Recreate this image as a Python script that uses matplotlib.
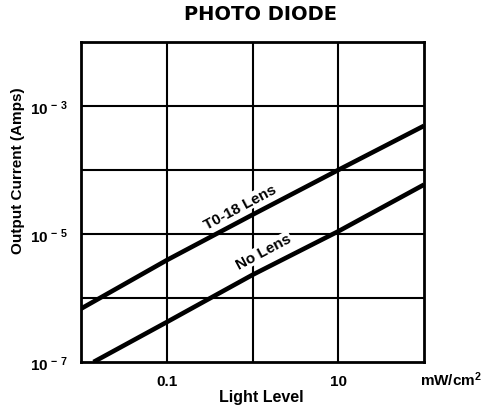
import matplotlib
matplotlib.use("Agg")
import matplotlib.pyplot as plt

# Data
light_to18 = [0.01, 0.1, 1, 10, 100]
current_to18 = [6.8e-7, 3.9e-6, 2.0e-5, 1.0e-4, 4.9e-4]
light_nolens = [0.014, 0.1, 1, 10, 100]
current_nolens = [1.0e-7, 4.2e-7, 2.3e-6, 1.1e-5, 5.9e-5]

xticks = [0.1, 10]
xticklabels = ["0.1", "10"]
yticks = [1e-3, 1e-5, 1e-7]
yticklabels = [r"$\mathbf{10^{\,-\,3}}$", r"$\mathbf{10^{\,-\,5}}$", r"$\mathbf{10^{\,-\,7}}$"]
xgrid = [0.1, 1, 10]
ygrid = [1e-6, 1e-5, 1e-4, 1e-3]

plt.rcParams["font.family"] = ["Liberation Sans", "DejaVu Sans"]
plt.rcParams["mathtext.fontset"] = "custom"
plt.rcParams["mathtext.rm"] = "Liberation Sans"
plt.rcParams["mathtext.bf"] = "Liberation Sans:bold"

fig = plt.figure(figsize=(4.84, 4.10), dpi=100)
ax = fig.add_axes([81/484, 1-363/410, 343/484, 320/410])
ax.set_xscale("log")
ax.set_yscale("log")
ax.set_xlim(0.01, 100)
ax.set_ylim(1e-7, 1e-2)

for gx in xgrid:
    ax.axvline(gx, color="black", lw=1.5, zorder=1)
for gy in ygrid:
    ax.axhline(gy, color="black", lw=1.5, zorder=1)

ax.plot(light_to18, current_to18, color="black", lw=3.3, zorder=3, solid_capstyle="butt")
ax.plot(light_nolens, current_nolens, color="black", lw=3.3, zorder=3, solid_capstyle="butt")

box = dict(facecolor="white", edgecolor="none", pad=0.5)
ax.text(0.72, 2.7e-5, "T0-18 Lens", rotation=28, ha="center", va="center",
        fontsize=11, fontweight="bold", rotation_mode="anchor", zorder=2, bbox=box)
ax.text(1.35, 5.3e-6, "No Lens", rotation=28, ha="center", va="center",
        fontsize=11, fontweight="bold", rotation_mode="anchor", zorder=2, bbox=box)

ax.minorticks_off()
ax.set_xticks(xticks)
ax.set_xticklabels(xticklabels, fontsize=11, fontweight="bold")
ax.set_yticks(yticks)
ax.set_yticklabels(yticklabels, fontsize=11)
ax.tick_params(axis="both", length=0)
ax.tick_params(axis="x", pad=9)
ax.tick_params(axis="y", pad=9)

for s in ax.spines.values():
    s.set_linewidth(2)
    s.set_color("black")
    s.set_zorder(4)

fig.text(260/484, 1-15/410, "PHOTO DIODE", ha="center", va="center",
         fontsize=14, fontweight="heavy", family=["DejaVu Sans"])
fig.text(261/484, 1-398/410, "Light Level", ha="center", va="center",
         fontsize=11.5, fontweight="bold")
fig.text(451/484, 1-380/410, r"mW/cm$\mathbf{^2}$", ha="center", va="center",
         fontsize=11, fontweight="bold")
fig.text(18/484, 1-171/410, "Output Current (Amps)", ha="center", va="center",
         rotation=90, fontsize=11, fontweight="bold")

fig.savefig("out.png", dpi=100, facecolor="white")
